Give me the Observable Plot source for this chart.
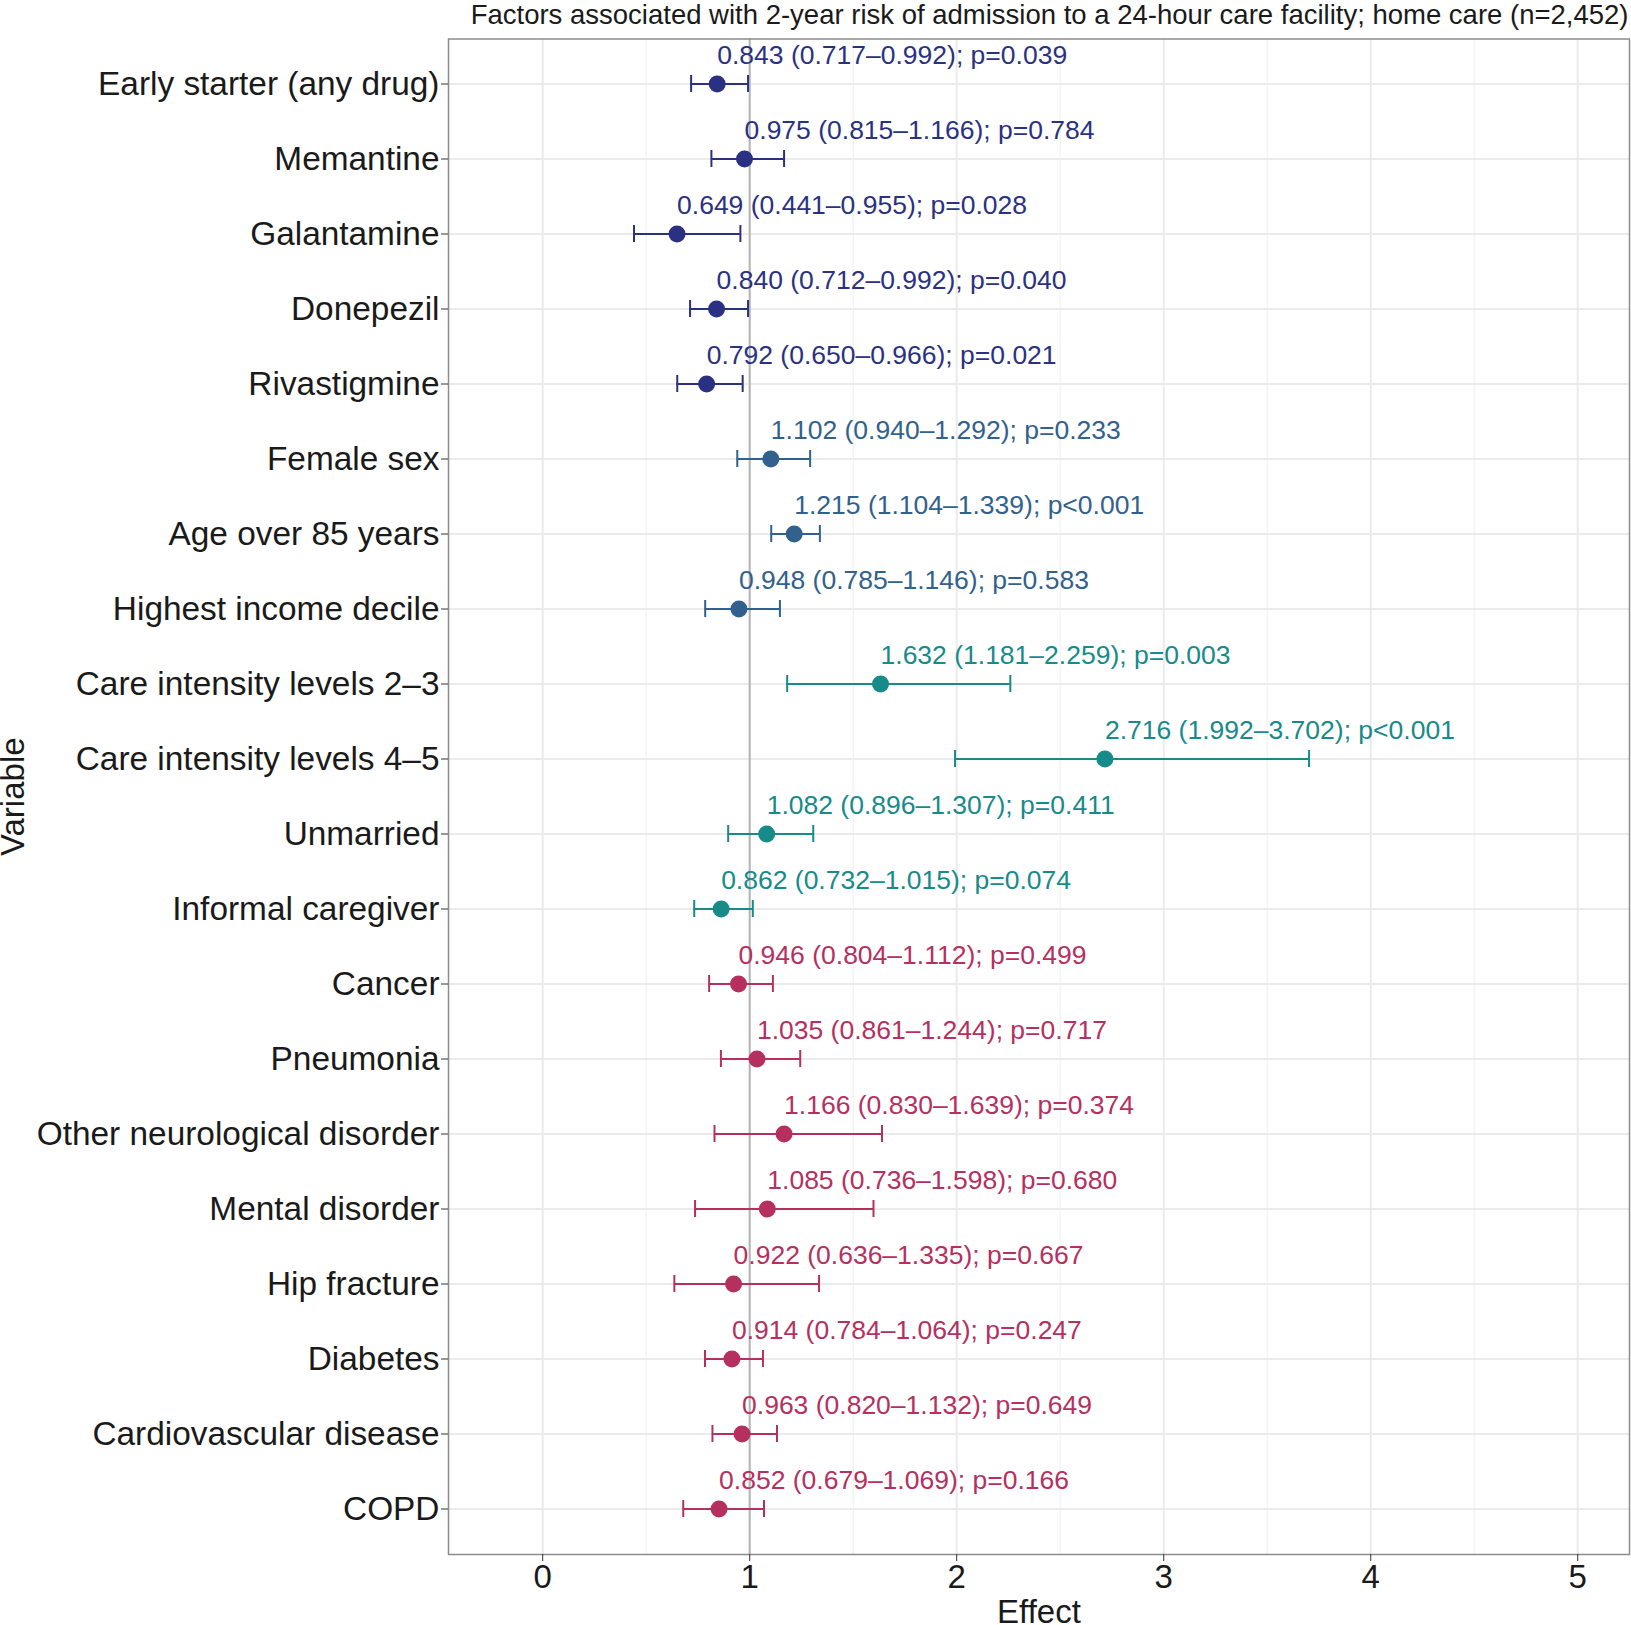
<!DOCTYPE html>
<html>
<head>
<meta charset="utf-8">
<script src="https://cdn.jsdelivr.net/npm/d3@7"></script>
<script src="https://cdn.jsdelivr.net/npm/@observablehq/plot@0.6"></script>
<style>
  html, body { margin: 0; padding: 0; background: white; }
  #chart svg { display: block; }
</style>
</head>
<body>
<div id="chart"></div>
<script>
const variables = [
  "Early starter (any drug)", "Memantine", "Galantamine", "Donepezil", "Rivastigmine",
  "Female sex", "Age over 85 years", "Highest income decile",
  "Care intensity levels 2–3", "Care intensity levels 4–5", "Unmarried", "Informal caregiver",
  "Cancer", "Pneumonia", "Other neurological disorder", "Mental disorder",
  "Hip fracture", "Diabetes", "Cardiovascular disease", "COPD"
];
const estimates = [0.843, 0.975, 0.649, 0.840, 0.792, 1.102, 1.215, 0.948, 1.632, 2.716, 1.082, 0.862, 0.946, 1.035, 1.166, 1.085, 0.922, 0.914, 0.963, 0.852];
const lower =     [0.717, 0.815, 0.441, 0.712, 0.650, 0.940, 1.104, 0.785, 1.181, 1.992, 0.896, 0.732, 0.804, 0.861, 0.830, 0.736, 0.636, 0.784, 0.820, 0.679];
const upper =     [0.992, 1.166, 0.955, 0.992, 0.966, 1.292, 1.339, 1.146, 2.259, 3.702, 1.307, 1.015, 1.112, 1.244, 1.639, 1.598, 1.335, 1.064, 1.132, 1.069];
const pValues = ["0.039", "0.784", "0.028", "0.040", "0.021", "0.233", "<0.001", "0.583", "0.003", "<0.001", "0.411", "0.074", "0.499", "0.717", "0.374", "0.680", "0.667", "0.247", "0.649", "0.166"];
const groups = ["drug", "drug", "drug", "drug", "drug", "demo", "demo", "demo", "care", "care", "care", "care",
  "comorb", "comorb", "comorb", "comorb", "comorb", "comorb", "comorb", "comorb"];
const groupDomain = ["drug", "demo", "care", "comorb"];
const groupColors = ["#2b3182", "#31618c", "#178a8a", "#b5305f"];
const xTicks = [0, 1, 2, 3, 4, 5];
const xMinor = [0.5, 1.5, 2.5, 3.5, 4.5];

const rows = variables.map((v, i) => ({
  variable: v,
  est: estimates[i],
  lo: lower[i],
  hi: upper[i],
  group: groups[i],
  label: `${estimates[i].toFixed(3)} (${lower[i].toFixed(3)}–${upper[i].toFixed(3)}); p${pValues[i].startsWith("<") ? pValues[i] : "=" + pValues[i]}`
}));

const font = "'Liberation Sans', Arial, Helvetica, sans-serif";

const chart = Plot.plot({
  width: 1631,
  height: 1625,
  marginTop: 38.5,
  marginBottom: 71,
  marginLeft: 448,
  marginRight: 2,
  style: { fontFamily: font, background: "white", color: "#1a1a1a" },
  x: { domain: [-0.455, 5.25] },
  y: { type: "band", domain: variables, paddingInner: 0.773, paddingOuter: 0.487 },
  color: { type: "ordinal", domain: groupDomain, range: groupColors },
  marks: [
    Plot.gridX(xMinor, { stroke: "#f2f2f2", strokeOpacity: 1, strokeWidth: 1.2 }),
    Plot.gridX(xTicks, { stroke: "#ebebeb", strokeOpacity: 1, strokeWidth: 2 }),
    Plot.gridY(variables, { stroke: "#ebebeb", strokeOpacity: 1, strokeWidth: 2 }),
    Plot.ruleX([1], { stroke: "#b5b5b5", strokeWidth: 2 }),
    Plot.ruleY(rows, { y: "variable", x1: "lo", x2: "hi", stroke: "group", strokeWidth: 2 }),
    Plot.tickX(rows, { x: "lo", y: "variable", stroke: "group", strokeWidth: 2 }),
    Plot.tickX(rows, { x: "hi", y: "variable", stroke: "group", strokeWidth: 2 }),
    Plot.dot(rows, { x: "est", y: "variable", fill: "group", r: 8.5 }),
    Plot.text(rows, { x: "est", y: "variable", text: "label", fill: "group", textAnchor: "start", dy: -28, fontSize: 26.5 }),
    Plot.frame({ stroke: "#8c8c8c", strokeWidth: 1.5 }),
    Plot.axisX(xTicks, { tickSize: 7, tickPadding: 3, fontSize: 33, label: null, stroke: "#333", tickFormat: d => String(d) }),
    Plot.axisY({ tickSize: 7, tickPadding: 2, fontSize: 33.4, label: null, stroke: "#333" }),
    Plot.text(["Effect"], { frameAnchor: "bottom", dy: 58, fontSize: 33, lineAnchor: "middle", fill: "#1a1a1a" }),
    Plot.text(["Variable"], { frameAnchor: "left", textAnchor: "middle", dx: -435, rotate: -90, fontSize: 33, lineAnchor: "middle", fill: "#1a1a1a" }),
    Plot.text(["Factors associated with 2-year risk of admission to a 24-hour care facility; home care (n=2,452)"],
      { frameAnchor: "top-right", textAnchor: "end", lineAnchor: "bottom", dx: -1, dy: -15, fontSize: 27.5, fill: "#1a1a1a" })
  ]
});
document.getElementById("chart").appendChild(chart);
</script>
</body>
</html>
